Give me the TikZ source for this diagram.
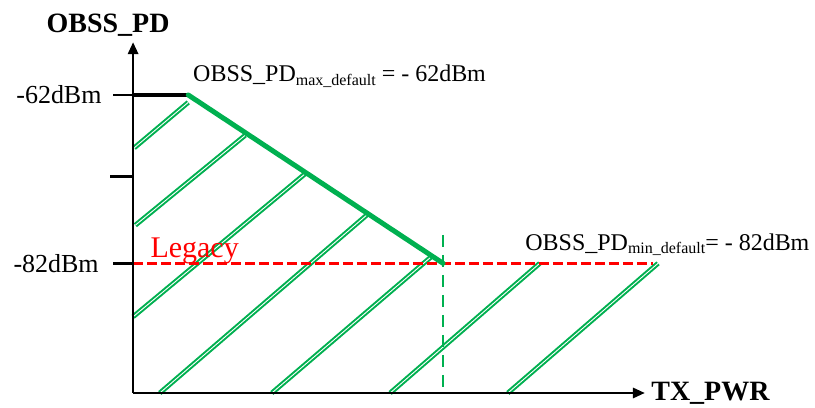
\documentclass[tikz,border=0pt]{standalone}
\usepackage{fontspec}
\setmainfont{Liberation Serif}
\usepackage{tikz}
\usetikzlibrary{arrows.meta, calc}
\definecolor{figG}{RGB}{0,176,80}
\definecolor{figR}{RGB}{255,0,0}
\newcommand{\sublab}[1]{\raisebox{-1.8pt}{\fontsize{8}{9}\selectfont #1}}

\begin{document}
\begin{tikzpicture}[
  axis/.style={line width=1.4pt, -{Triangle[length=6pt, width=5pt]}},
  tick/.style={line width=1.4pt},
  hatch/.style={figG, line width=1pt, double=white, double distance=0.45pt},
  lab/.style={inner sep=0pt, font=\fontsize{13}{15}\selectfont},
  axlab/.style={font=\bfseries\fontsize{14}{16}\selectfont}]
\useasboundingbox (-2.34,-0.26) rectangle (11.99,6.91);
% levels
\coordinate (O) at (0,0);
\coordinate (L62) at (0,5.24);
\coordinate (L82) at (0,2.28);
\coordinate (Lmid) at (0,3.80);
\coordinate (Pmax) at (0.97,5.24);
\coordinate (Pmin) at (5.45,2.28);
% hatching under the curve
\foreach \xa/\ya/\xb/\yb in {0.02/4.31/0.97/5.11, 0.04/2.95/1.97/4.53, 0/1.34/3.02/3.85,
  0.47/0/4.11/3.13, 2.44/0/5.26/2.41, 4.52/0/7.15/2.28, 6.59/0/9.23/2.28}
  \draw[hatch] (\xa,\ya) -- (\xb,\yb);
% legacy threshold
\draw[figR, line width=1.5pt, dash pattern=on 5pt off 2pt] (L82) -- (9.14,2.28) coordinate (Lend);
\node[anchor=base west, inner sep=0pt, text=figR, font=\fontsize{15}{17}\selectfont] (legacy) at (0.30,2.39) {Legacy};
% tx power limit
\draw[figG, line width=1.4pt, dash pattern=on 6pt off 4pt] (5.45,2.78) coordinate (Vtop) -- (5.45,0) coordinate (Vbot);
% obss_pd curve
\draw[line width=2.2pt] (L62) -- (Pmax);
\draw[figG, line width=2.5pt, line cap=round] (Pmax) -- (Pmin);
% axes
\draw[axis] (O) -- (0,6.17) coordinate (ytop);
\draw[axis] (O) -- (9.00,0) coordinate (xtip) node[right, inner sep=2.5pt, axlab] (xlab) {TX\_PWR};
\node[anchor=base, axlab, inner sep=0pt] (ylab) at (-0.44,6.34) {OBSS\_PD};
% ticks
\draw[tick] (L62) -- ++(-0.35,0) node[left=0.18cm, lab] (t62) {-62dBm};
\draw[tick] (Lmid) -- ++(-0.40,0);
\draw[tick] (L82) -- ++(-0.35,0) node[left=0.23cm, lab] (t82) {-82dBm};
% default values
\node[anchor=base west, inner sep=0pt, font=\fontsize{12}{14}\selectfont] (maxlab) at (1.05,5.47)
  {OBSS\_PD\sublab{max\_default} = - 62dBm};
\node[anchor=base west, inner sep=0pt, font=\fontsize{12}{14}\selectfont] (minlab) at (6.89,2.51)
  {OBSS\_PD\sublab{min\_default}= - 82dBm};
\end{tikzpicture}
\end{document}
